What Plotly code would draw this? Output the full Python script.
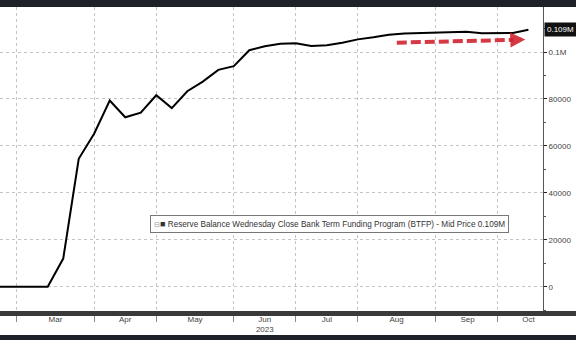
import plotly.graph_objects as go

# ---------------- data ----------------
dates = [
    "2023-02-08", "2023-02-15", "2023-02-22", "2023-03-01", "2023-03-08",
    "2023-03-15", "2023-03-22", "2023-03-29", "2023-04-05", "2023-04-12",
    "2023-04-19", "2023-04-26", "2023-05-03", "2023-05-10", "2023-05-17",
    "2023-05-24", "2023-05-31", "2023-06-07", "2023-06-14", "2023-06-21",
    "2023-06-28", "2023-07-05", "2023-07-12", "2023-07-19", "2023-07-26",
    "2023-08-02", "2023-08-09", "2023-08-16", "2023-08-23", "2023-08-30",
    "2023-09-06", "2023-09-13", "2023-09-20", "2023-09-27", "2023-10-04",
    "2023-10-11",
]
btfp = [
    0, 0, 0, 0, 0,
    12000, 54500, 65300, 79300, 72200,
    74200, 81600, 76100, 83300, 87400,
    92400, 94000, 100800, 102500, 103500,
    103700, 102600, 102900, 104000, 105400,
    106300, 107400, 107900, 108100, 108300,
    108500, 108700, 108000, 108000, 108100,
    109500,
]
series_name = "Reserve Balance Wednesday Close Bank Term Funding Program (BTFP) - Mid Price 0.109M"
last_label = "0.109M"
last_value = 109500

month_label_dates = ["2023-03-11 12:00", "2023-04-12", "2023-05-13 12:00", "2023-06-14",
                     "2023-07-12", "2023-08-12 12:00", "2023-09-13 12:00", "2023-10-11"]
month_labels = ["Mar", "Apr", "May", "Jun<br>2023", "Jul", "Aug", "Sep", "Oct"]
grid_dates = ["2023-02-22", "2023-03-29", "2023-04-26", "2023-05-31",
              "2023-06-28", "2023-07-26", "2023-08-30", "2023-09-27"]
y_tickvals = [0, 20000, 40000, 60000, 80000, 100000]
y_ticktext = ["0", "20000", "40000", "60000", "80000", "0.1M"]

x_range = ["2023-02-14 11:00", "2023-10-17 14:00"]
y_range = [-11200, 119200]

# hand-drawn red callout arrow
arrow_start = ("2023-08-12 14:00", 104000)
arrow_neck = ("2023-10-04 05:00", 105200)
arrow_tip = ("2023-10-09 14:00", 105400)

# ---------------- layout geometry ----------------
W, H = 576, 340
ML, MR, MT, MB = 0, 33, 7, 27
PW = W - ML - MR
PH = H - MT - MB


def py(pix):  # pixel y -> paper y
    return (H - MB - pix) / PH


def px(pix):  # pixel x -> paper x
    return (pix - ML) / PW


FONT = "Liberation Sans, Arial, sans-serif"
DARK = "#1e2127"
RED = "rgba(208,36,48,0.9)"

fig = go.Figure()
fig.add_trace(go.Scatter(
    x=dates, y=btfp, mode="lines",
    line=dict(color="#000000", width=2),
    name=series_name, showlegend=False, hoverinfo="x+y",
))

shapes = [
    # top & bottom dark frame bars
    dict(type="rect", xref="paper", yref="paper", x0=px(0), x1=px(W), y0=py(MT), y1=py(0),
         fillcolor=DARK, line=dict(width=0), layer="above"),
    dict(type="rect", xref="paper", yref="paper", x0=px(0), x1=px(W), y0=py(H), y1=py(335),
         fillcolor=DARK, line=dict(width=0), layer="above"),
    # thick bottom axis band
    dict(type="rect", xref="paper", yref="paper", x0=px(0), x1=px(W), y0=py(316), y1=py(311),
         fillcolor="#3a3a3a", line=dict(width=0), layer="above"),
    # red dashed arrow body
    dict(type="line", xref="x", yref="y",
         x0=arrow_start[0], y0=arrow_start[1], x1=arrow_neck[0], y1=arrow_neck[1],
         line=dict(color=RED, width=4, dash="10px,4px"), layer="above"),
]

annotations = [
    # legend box
    dict(xref="paper", yref="paper", x=px(149.5), y=py(214.5), xanchor="left", yanchor="top",
         text="<span style='color:#999;font-size:7px'>⊟</span><span style='font-size:9px'>■</span> "
              + series_name,
         showarrow=False, align="left",
         font=dict(family=FONT, size=8.2, color="#333"),
         bgcolor="#ffffff", bordercolor="#777", borderwidth=1, borderpad=3),
    # last value tag
    dict(xref="paper", yref="y", x=1, y=last_value, xanchor="left", yanchor="middle",
         xshift=1, text=last_label, showarrow=False,
         font=dict(family=FONT, size=8, color="#ffffff"),
         bgcolor="#111111", borderpad=2),
    # arrow head
    dict(xref="x", yref="y", axref="x", ayref="y",
         x=arrow_tip[0], y=arrow_tip[1], ax=arrow_neck[0], ay=arrow_neck[1],
         text="", showarrow=True, arrowhead=2, arrowsize=0.75, arrowwidth=4,
         arrowcolor=RED),
]

fig.update_layout(
    width=W, height=H,
    margin=dict(l=ML, r=MR, t=MT, b=MB, pad=0),
    paper_bgcolor="#ffffff", plot_bgcolor="#ffffff",
    font=dict(family=FONT, size=8, color="#444"),
    showlegend=False,
    shapes=shapes, annotations=annotations,
    xaxis=dict(
        type="date", range=x_range,
        tickmode="array", tickvals=month_label_dates, ticktext=month_labels,
        ticks="", showgrid=False, showline=False, zeroline=False,
        tickfont=dict(family=FONT, size=8, color="#444"),
        minor=dict(tickmode="array", tickvals=grid_dates, showgrid=True,
                   griddash="dot", gridcolor="#c4c4c4", gridwidth=1,
                   ticks="outside", ticklen=8, tickcolor="#888"),
    ),
    yaxis=dict(
        side="right", range=y_range,
        tickmode="array", tickvals=y_tickvals, ticktext=y_ticktext,
        ticks="outside", ticklen=3, tickwidth=1, tickcolor="#222",
        showline=True, linecolor="#555", linewidth=1,
        showgrid=True, griddash="dot", gridcolor="#c4c4c4", gridwidth=1,
        zeroline=False,
        tickfont=dict(family=FONT, size=8, color="#444"),
        minor=dict(dtick=10000, tick0=0, ticks="outside", ticklen=2, tickcolor="#555",
                   showgrid=False),
    ),
)

fig.write_html("out.html")
